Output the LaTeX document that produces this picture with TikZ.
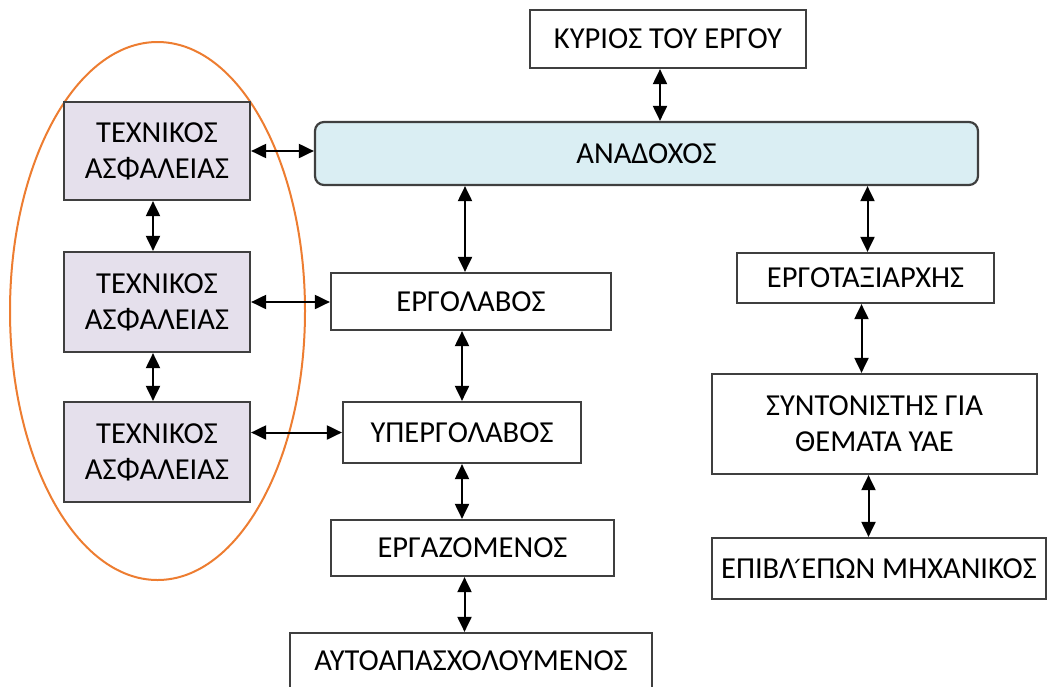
\documentclass[tikz,border=0pt]{standalone}
\usepackage{fontspec}
\setmainfont{Carlito}
\newfontfamily\tonosfont{DejaVu Sans}
\usetikzlibrary{arrows.meta}
\definecolor{edgegray}{HTML}{3F3F3F}
\definecolor{contractorblue}{HTML}{DAEEF3}
\definecolor{safetylilac}{HTML}{E5E0EC}
\definecolor{groupring}{HTML}{ED7D31}
% box given by its corners: name, x1, y1, x2, y2, extra style, text
\newcommand\cornerbox[7]{%
  \node[box,#6,minimum width={(#4)-(#2)},minimum height={(#5)-(#3)}]
    (#1) at ({((#2)+(#4))/2},{((#3)+(#5))/2}) {#7};}
% capital epsilon with tonos, built from a spacing tonos laid over the gap
\newcommand\Etonos{\kern5pt\llap{\tonosfont\fontsize{24}{24}\selectfont\char"0384\kern-1pt}Ε}
\begin{document}
\begin{tikzpicture}[x=1pt,y=-1pt,
  box/.style={draw=edgegray,line width=2.2pt,fill=white,inner sep=0pt,
    align=center,font=\fontsize{30.5}{36}\selectfont},
  link/.style={{Triangle[length=15pt,width=14pt]}-{Triangle[length=15pt,width=14pt]},
    line width=2pt,black},
  ring/.style={draw=groupring,line width=2pt}]
\useasboundingbox (0,0) rectangle (1062,686);

% safety technicians grouped by the ring
\draw[ring] (157.5,311) ellipse [x radius=147.5pt, y radius=269pt];

\cornerbox{owner}{530}{10}{806}{68}{}{ΚΥΡΙΟΣ ΤΟΥ ΕΡΓΟΥ}
\cornerbox{anad}{315}{122}{978}{185}{fill=contractorblue,rounded corners=9pt}{ΑΝΑΔΟΧΟΣ}
\cornerbox{tA}{64}{102}{250}{200}{fill=safetylilac}{ΤΕΧΝΙΚΟΣ\\ΑΣΦΑΛΕΙΑΣ}
\cornerbox{tB}{64}{252}{250}{352}{fill=safetylilac}{ΤΕΧΝΙΚΟΣ\\ΑΣΦΑΛΕΙΑΣ}
\cornerbox{tC}{64}{402}{250}{502}{fill=safetylilac}{ΤΕΧΝΙΚΟΣ\\ΑΣΦΑΛΕΙΑΣ}
\cornerbox{erg}{331}{273}{611}{330}{}{ΕΡΓΟΛΑΒΟΣ}
\cornerbox{yperg}{343}{402}{581}{463}{}{ΥΠΕΡΓΟΛΑΒΟΣ}
\cornerbox{ergaz}{331}{520}{614}{576}{}{ΕΡΓΑΖΟΜΕΝΟΣ}
\cornerbox{auto}{290}{633}{652}{700}{}{\raisebox{12pt}{ΑΥΤΟΑΠΑΣΧΟΛΟΥΜΕΝΟΣ}}
\cornerbox{etx}{737}{253}{994}{303}{}{ΕΡΓΟΤΑΞΙΑΡΧΗΣ}
\cornerbox{synt}{712}{374}{1037}{474}{}{ΣΥΝΤΟΝΙΣΤΗΣ ΓΙΑ\\ΘΕΜΑΤΑ ΥΑΕ}
\cornerbox{epiv}{712}{538}{1046}{599}{}{ΕΠΙΒΛ\Etonos ΠΩΝ ΜΗΧΑΝΙΚΟΣ}

% connectors
\draw[link] ([xshift=-8pt]owner.south) -- ([xshift=-8pt]owner.south |- anad.north);
\draw[link] (tA.east) -- (tA.east -| anad.west);
\draw[link] ([xshift=-6pt]erg.north) -- ([xshift=-6pt]erg.north |- anad.south);
\draw[link] ([xshift=2pt]etx.north) -- ([xshift=2pt]etx.north |- anad.south);
\draw[link] ([xshift=-4pt]tA.south) -- ([xshift=-4pt]tA.south |- tB.north);
\draw[link] ([xshift=-4pt]tB.south) -- ([xshift=-4pt]tB.south |- tC.north);
\draw[link] (tB.east) -- (tB.east -| erg.west);
\draw[link] (yperg.west -| tC.east) -- (yperg.west);
\draw[link] (yperg.north |- erg.south) -- (yperg.north);
\draw[link] (yperg.south) -- (yperg.south |- ergaz.north);
\draw[link] ([xshift=-8pt]ergaz.south) -- ([xshift=-8pt]ergaz.south |- auto.north);
\draw[link] ([xshift=-4pt]etx.south) -- ([xshift=-4pt]etx.south |- synt.north);
\draw[link] ([xshift=-6pt]synt.south) -- ([xshift=-6pt]synt.south |- epiv.north);
\end{tikzpicture}
\end{document}
